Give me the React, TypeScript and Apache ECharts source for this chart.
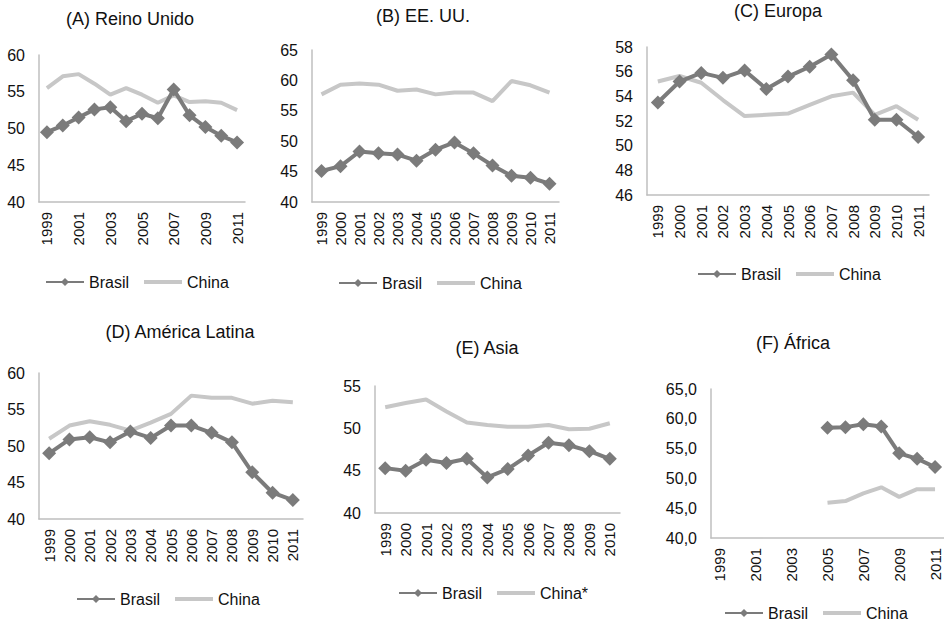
import React, { useEffect, useRef } from "react";
import * as echarts from "echarts";

const years13 = ["1999","2000","2001","2002","2003","2004","2005","2006","2007","2008","2009","2010","2011"];
const years12 = ["1999","2000","2001","2002","2003","2004","2005","2006","2007","2008","2009","2010"];

const ukBrasil = [49.5, 50.4, 51.5, 52.6, 52.9, 51.0, 52.0, 51.4, 55.3, 51.8, 50.2, 49.0, 48.1];
const ukChina = [55.5, 57.1, 57.4, 56.1, 54.6, 55.5, 54.6, 53.5, 54.5, 53.6, 53.7, 53.5, 52.5];

const usBrasil = [45.1, 45.9, 48.3, 48.0, 47.8, 46.8, 48.6, 49.8, 48.0, 46.0, 44.3, 44.0, 43.0];
const usChina = [57.7, 59.3, 59.5, 59.3, 58.3, 58.5, 57.7, 58.0, 58.0, 56.6, 59.9, 59.2, 58.0];

const euBrasil = [53.5, 55.2, 55.9, 55.5, 56.1, 54.6, 55.6, 56.4, 57.4, 55.3, 52.1, 52.1, 50.7];
const euChina = [55.2, 55.65, 55.1, 53.7, 52.4, 52.5, 52.6, 53.3, 54.0, 54.3, 52.5, 53.2, 52.1];

const laBrasil = [49.0, 50.9, 51.2, 50.5, 52.0, 51.1, 52.8, 52.8, 51.8, 50.5, 46.4, 43.6, 42.6];
const laChina = [51.0, 52.8, 53.4, 52.9, 52.1, 53.2, 54.4, 56.9, 56.6, 56.6, 55.8, 56.2, 56.0];

const asBrasil = [45.3, 45.0, 46.3, 45.9, 46.4, 44.2, 45.2, 46.8, 48.3, 48.0, 47.3, 46.4];
const asChina = [52.5, 53.0, 53.4, 52.0, 50.7, 50.4, 50.2, 50.2, 50.4, 49.9, 49.95, 50.6];

const afBrasil = [null, null, null, null, null, null, 58.5, 58.6, 59.1, 58.7, 54.2, 53.3, 51.9];
const afChina = [null, null, null, null, null, null, 45.9, 46.2, 47.5, 48.5, 46.9, 48.2, 48.2];

const titles = ["(A) Reino Unido", "(B) EE. UU.", "(C) Europa", "(D) América Latina", "(E) Asia", "(F) África"];

const BR = "#7b7b7b";
const CH = "#c7c7c7";
const AX = "#bfbfbf";
const TXT = "#111111";
const FONT = "Liberation Sans, Arial, sans-serif";
const LINE_ICON = "path://M0,0H38V4H0Z";

export default function App() {
  const ref = useRef<HTMLDivElement>(null);
  useEffect(() => {
    if (!ref.current) return;
    const chart = echarts.init(ref.current, undefined, { renderer: "svg" });

    const panels = [
      { cats: years13, br: ukBrasil, ch: ukChina, chName: "China", grid: { left: 39, top: 55, width: 206, height: 147 }, min: 40, max: 60, interval: 5, xInt: 1, fmt: (v: number) => String(v), title: [130, 20], legend: [45, 279] },
      { cats: years13, br: usBrasil, ch: usChina, chName: "China", grid: { left: 312, top: 50, width: 247, height: 152 }, min: 40, max: 65, interval: 5, xInt: 0, fmt: (v: number) => String(v), title: [423, 17], legend: [338, 280] },
      { cats: years13, br: euBrasil, ch: euChina, chName: "China", grid: { left: 647, top: 47, width: 282, height: 148 }, min: 46, max: 58, interval: 2, xInt: 0, fmt: (v: number) => String(v), title: [778, 12], legend: [697, 271] },
      { cats: years13, br: laBrasil, ch: laChina, chName: "China", grid: { left: 39, top: 373, width: 264, height: 146 }, min: 40, max: 60, interval: 5, xInt: 0, fmt: (v: number) => String(v), title: [180, 333], legend: [76, 596] },
      { cats: years12, br: asBrasil, ch: asChina, chName: "China*", grid: { left: 375, top: 386, width: 245, height: 127 }, min: 40, max: 55, interval: 5, xInt: 0, fmt: (v: number) => String(v), title: [487, 349], legend: [398, 590] },
      { cats: years13, br: afBrasil, ch: afChina, chName: "China", grid: { left: 711, top: 389, width: 233, height: 149 }, min: 40, max: 65, interval: 5, xInt: 1, fmt: (v: number) => v.toFixed(1).replace(".", ","), title: [793, 344], legend: [724, 610] },
    ];

    const option: any = {
      animation: false,
      backgroundColor: "#ffffff",
      textStyle: { fontFamily: FONT },
      title: panels.map((p, i) => ({
        text: titles[i],
        left: p.title[0],
        top: p.title[1] - 10,
        textAlign: "center",
        padding: 0,
        textStyle: { fontSize: 18, fontWeight: "normal", color: TXT, fontFamily: FONT },
      })),
      grid: panels.map((p) => ({ ...p.grid, containLabel: false })),
      xAxis: panels.map((p, i) => ({
        type: "category",
        gridIndex: i,
        data: p.cats,
        boundaryGap: true,
        axisLine: { lineStyle: { color: AX, width: 1.5 } },
        axisTick: { show: false },
        axisLabel: { rotate: 90, interval: p.xInt, fontSize: 15, color: TXT, margin: 10, fontFamily: FONT },
        splitLine: { show: false },
      })),
      yAxis: panels.map((p, i) => ({
        type: "value",
        gridIndex: i,
        min: p.min,
        max: p.max,
        interval: p.interval,
        axisLine: { show: true, lineStyle: { color: AX, width: 1.5 } },
        axisTick: { show: false },
        axisLabel: { fontSize: 16, color: TXT, margin: 14, formatter: p.fmt, fontFamily: FONT },
        splitLine: { show: false },
      })),
      legend: panels.map((p) => ({
        left: p.legend[0],
        top: p.legend[1] - 5,
        orient: "horizontal",
        itemWidth: 38,
        itemHeight: 10,
        itemGap: 15,
        padding: 0,
        selectedMode: false,
        data: ["Brasil", { name: p.chName, icon: LINE_ICON }],
        textStyle: { fontSize: 16, color: TXT, fontFamily: FONT },
      })),
      series: panels.flatMap((p, i) => [
        {
          name: p.chName,
          type: "line",
          xAxisIndex: i,
          yAxisIndex: i,
          data: p.ch,
          symbol: "none",
          lineStyle: { color: CH, width: 4 },
          itemStyle: { color: CH },
          connectNulls: false,
          z: 2,
        },
        {
          name: "Brasil",
          type: "line",
          xAxisIndex: i,
          yAxisIndex: i,
          data: p.br,
          symbol: "diamond",
          symbolSize: 14,
          showSymbol: true,
          showAllSymbol: true,
          lineStyle: { color: BR, width: 4 },
          itemStyle: { color: BR },
          connectNulls: false,
          z: 3,
        },
      ]),
    };
    chart.setOption(option);
    return () => chart.dispose();
  }, []);

  return (
    <div
      ref={ref}
      style={{ position: "fixed", left: 0, top: 0, width: 944, height: 623, background: "#fff" }}
    />
  );
}
